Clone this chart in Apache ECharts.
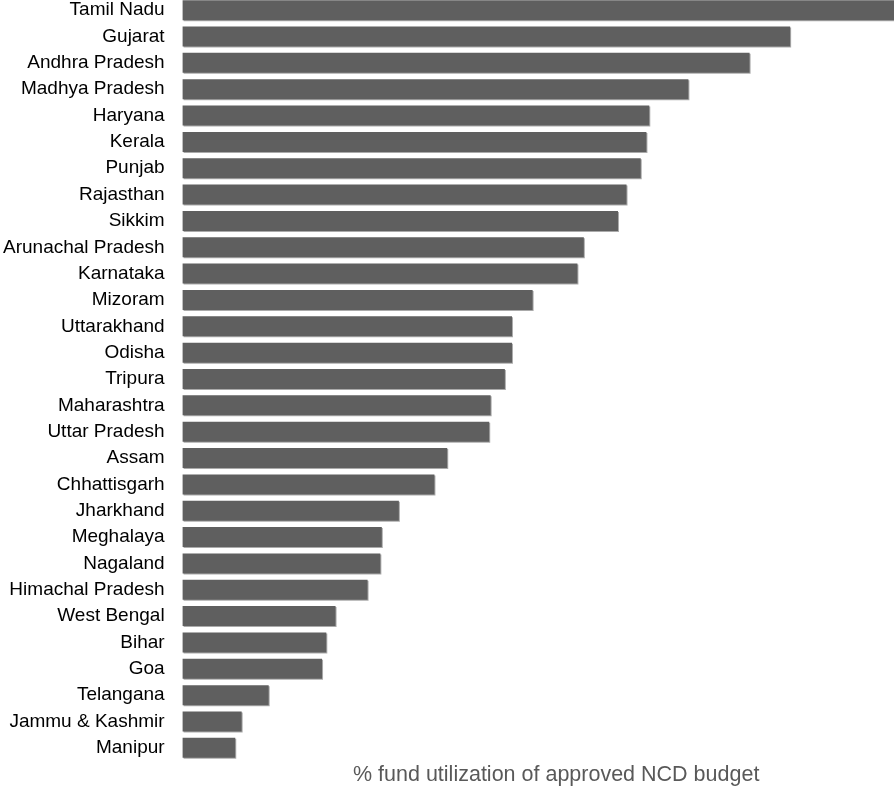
<!DOCTYPE html>
<html>
<head>
<meta charset="utf-8">
<script src="https://cdn.jsdelivr.net/npm/echarts@6/dist/echarts.min.js"></script>
<style>
  html, body { margin: 0; padding: 0; background: #fff; overflow: hidden; }
  #chart { width: 894px; height: 792px; margin-top: -3px; }
</style>
</head>
<body>
<div id="chart"></div>
<script>
// states, top to bottom
const states = [
  "Tamil Nadu", "Gujarat", "Andhra Pradesh", "Madhya Pradesh", "Haryana",
  "Kerala", "Punjab", "Rajasthan", "Sikkim", "Arunachal Pradesh",
  "Karnataka", "Mizoram", "Uttarakhand", "Odisha", "Tripura",
  "Maharashtra", "Uttar Pradesh", "Assam", "Chhattisgarh", "Jharkhand",
  "Meghalaya", "Nagaland", "Himachal Pradesh", "West Bengal", "Bihar",
  "Goa", "Telangana", "Jammu & Kashmir", "Manipur"
];
// % fund utilization
const utilization = [
  100, 85.4, 79.7, 71.1, 65.6,
  65.2, 64.4, 62.4, 61.2, 56.4,
  55.5, 49.2, 46.3, 46.3, 45.3,
  43.3, 43.1, 37.2, 35.4, 30.4,
  28.0, 27.8, 26.0, 21.5, 20.2,
  19.6, 12.1, 8.3, 7.4
];
const axisTitle = "% fund utilization of approved NCD budget";

const chart = echarts.init(document.getElementById("chart"));
chart.setOption({
  animation: false,
  grid: { left: 181, right: 0, top: 0, height: 764, containLabel: false },
  xAxis: {
    type: "value",
    min: 0,
    max: 100,
    axisLine: { show: false },
    axisTick: { show: false },
    axisLabel: { show: false },
    splitLine: { show: false }
  },
  yAxis: {
    type: "category",
    data: states,
    inverse: true,
    axisLine: { show: false },
    axisTick: { show: false },
    axisLabel: {
      margin: 18,
      padding: [3, 0, 0, 0],
      color: "#000",
      fontSize: 19,
      fontFamily: "Liberation Sans, Arial, sans-serif"
    }
  },
  graphic: [{
    type: "text",
    left: 353,
    top: 767,
    style: {
      text: axisTitle,
      fill: "#595959",
      font: "21.5px 'Liberation Sans', Arial, sans-serif"
    }
  }],
  series: [{
    type: "bar",
    data: utilization,
    barWidth: 20,
    itemStyle: {
      color: "#5f5f5f",
      shadowColor: "#aaaaaa",
      shadowOffsetX: 1,
      shadowOffsetY: 1,
      shadowBlur: 0
    }
  }]
});
</script>
</body>
</html>
